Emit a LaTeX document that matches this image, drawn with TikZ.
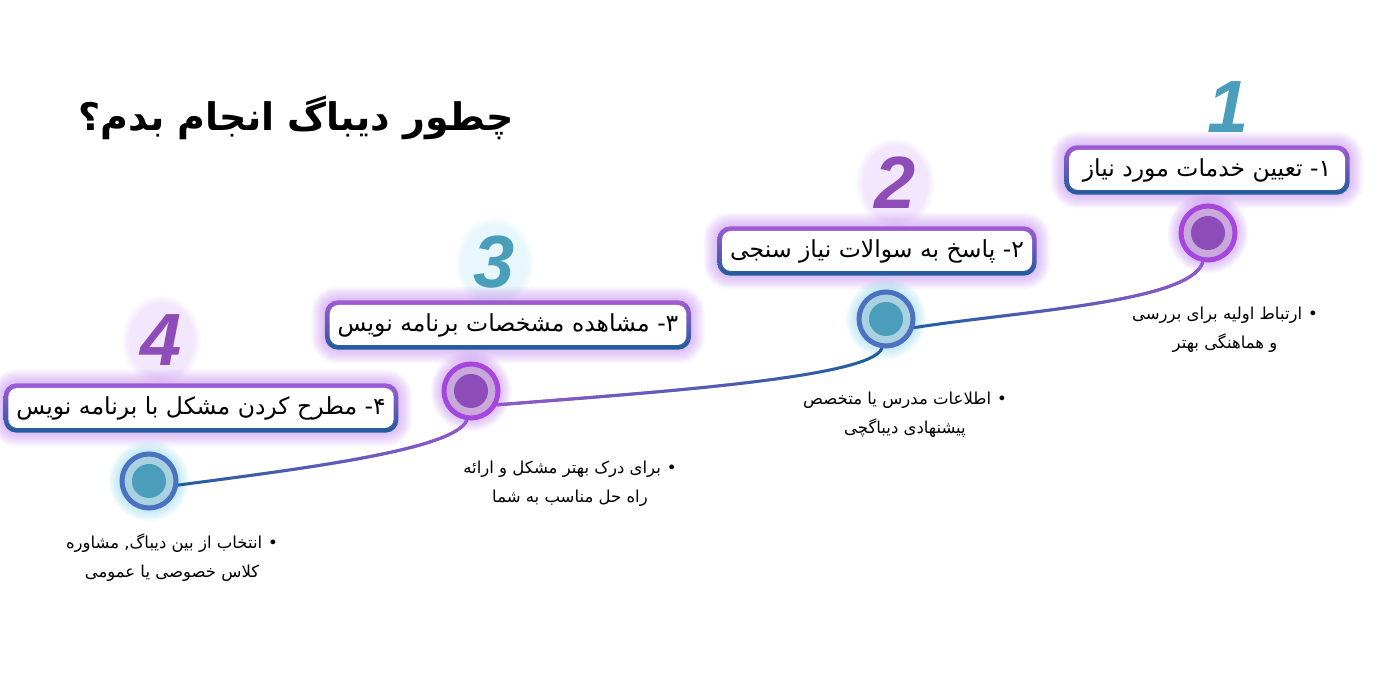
\documentclass[tikz,border=0pt]{standalone}
\usepackage{fontspec}
\usepackage{xcolor}
\usetikzlibrary{fadings}
\TeXXeTstate=1
\newfontfamily\arabicfont[Script=Arabic]{DejaVu Sans}
\newfontfamily\numfont{Liberation Sans}

\definecolor{stepPurple}{HTML}{A35AD6}
\definecolor{stepBlue}{HTML}{1F5C9A}
\definecolor{glowPurple}{HTML}{B878EC}
\definecolor{glowTeal}{HTML}{7FD0E8}
\definecolor{ringPurple}{HTML}{A646DC}
\definecolor{fillPurple}{HTML}{C9A9DC}
\definecolor{dotPurple}{HTML}{8E4CB8}
\definecolor{ringBlue}{HTML}{4A72C0}
\definecolor{fillTeal}{HTML}{A9D1E0}
\definecolor{dotTeal}{HTML}{4A9DBB}
\definecolor{numTeal}{HTML}{4A9EBB}
\definecolor{numPurple}{HTML}{8E4CB8}
\definecolor{lineBlue}{HTML}{1F5F9F}
\definecolor{linePurple}{HTML}{9A55D0}

\tikzfading[name=fade to left, left color=transparent!100, right color=transparent!0]
\tikzfading[name=fade to right, left color=transparent!0, right color=transparent!100]

\pgfdeclarelayer{background}
\pgfsetlayers{background,main}

\begin{document}
\begin{tikzpicture}[x=1pt, y=1pt,
  stepbox/.style={fill=white, rounded corners=9pt, minimum height=40pt, inner xsep=8pt,
    font=\arabicfont\fontsize{23.5}{27}\selectfont},
  ring/.style={circle, minimum size=54pt, line width=5pt, inner sep=0pt},
  ringP/.style={ring, draw=ringPurple, fill=fillPurple,
    path picture={\fill[dotPurple] (path picture bounding box.center) circle (17pt);}},
  ringT/.style={ring, draw=ringBlue, fill=fillTeal,
    path picture={\fill[dotTeal] (path picture bounding box.center) circle (17pt);}},
  note/.style={align=center, font=\arabicfont\fontsize{16.5}{29}\selectfont},
  bignum/.style={font=\numfont\bfseries\itshape\fontsize{74}{74}\selectfont},
  link/.style={line width=3pt, line cap=round}]

\useasboundingbox (0,0) rectangle (1400,700);

% Title
\node[font=\arabicfont\bfseries\fontsize{38}{42}\selectfont] (title) at (296,582)
  {\beginR چطور دیباگ انجام بدم؟\endR};

% Step boxes
\node[stepbox, minimum width=276pt] (b1) at (1207,530) {\beginR ۱- تعیین خدمات مورد نیاز\endR};
\node[stepbox, minimum width=310pt] (b2) at (877,449) {\beginR ۲- پاسخ به سوالات نیاز سنجی\endR};
\node[stepbox, minimum width=355pt] (b3) at (508,375) {\beginR ۳- مشاهده مشخصات برنامه نویس\endR};
\node[stepbox, minimum width=380pt] (b4) at (201,292) {\beginR ۴- مطرح کردن مشکل با برنامه نویس\endR};

% Big numbers
\node[bignum, numTeal] (num1) at (1228,593) {1};
\node[bignum, numPurple] (num2) at (895,517) {2};
\node[bignum, numTeal] (num3) at (494,438) {3};
\node[bignum, numPurple] (num4) at (161,360) {4};

% Timeline dots
\node[ringP] (c1) at (1208,467) {};
\node[ringT] (c2) at (886,381) {};
\node[ringP] (c3) at (471,309) {};
\node[ringT] (c4) at (149,219) {};

% Notes under the dots
\node[note] (n1) at (1225,370) {\beginR •\hspace{6pt}ارتباط اولیه برای بررسی\endR\\\beginR و هماهنگی بهتر\endR};
\node[note] (n2) at (905,285) {\beginR •\hspace{6pt}اطلاعات مدرس یا متخصص\endR\\\beginR پیشنهادی دیباگچی\endR};
\node[note] (n3) at (570,216) {\beginR •\hspace{6pt}برای درک بهتر مشکل و ارائه\endR\\\beginR راه حل مناسب به شما\endR};
\node[note] (n4) at (172,142) {\beginR •\hspace{6pt}انتخاب از بین دیباگ, مشاوره\endR\\\beginR کلاس خصوصی یا عمومی\endR};

\begin{pgfonlayer}{background}
% Soft halo behind the numbers
\foreach \n/\gc in {num2/glowPurple, num3/glowTeal, num4/glowPurple}
  \fill[\gc, opacity=0.18, path fading=circle with fuzzy edge 20 percent] (\n.center) ellipse (40pt and 46pt);

% Glow and gradient border of the boxes
\foreach \n in {b1,b2,b3,b4} {
  \foreach \w in {2,4,...,28}
    \draw[glowPurple, opacity=0.045, line width=\w pt, rounded corners=13pt]
      ([shift={(-4.5,-4.5)}]\n.south west) rectangle ([shift={(4.5,4.5)}]\n.north east);
  \shade[top color=stepPurple, bottom color=stepBlue, rounded corners=13pt]
    ([shift={(-4.5,-4.5)}]\n.south west) rectangle ([shift={(4.5,4.5)}]\n.north east);
}

% Glow of the dots
\foreach \n/\gc in {c1/glowPurple, c2/glowTeal, c3/glowPurple, c4/glowTeal} {
  \foreach \w in {2,4,...,22}
    \draw[\gc, opacity=0.05, line width=\w pt] (\n.center) circle (29.5pt);
}

% Connecting curves (blue base, purple faded on top)
\draw[link, lineBlue] (c1.-100) .. controls +(-12,-40) and +(110,17) .. (c2.-17);
\draw[link, linePurple, path fading=fade to left] (c1.-100) .. controls +(-12,-40) and +(110,17) .. (c2.-17);

\draw[link, lineBlue] (c2.-98) .. controls +(-10,-30) and +(150,12) .. (c3.-28);
\draw[link, linePurple, path fading=fade to right] (c2.-98) .. controls +(-10,-30) and +(150,12) .. (c3.-28);

\draw[link, lineBlue] (c3.-98) .. controls +(-12,-30) and +(120,16) .. (c4.-8);
\draw[link, linePurple, path fading=fade to left] (c3.-98) .. controls +(-12,-30) and +(120,16) .. (c4.-8);
\end{pgfonlayer}

\end{tikzpicture}
\end{document}
